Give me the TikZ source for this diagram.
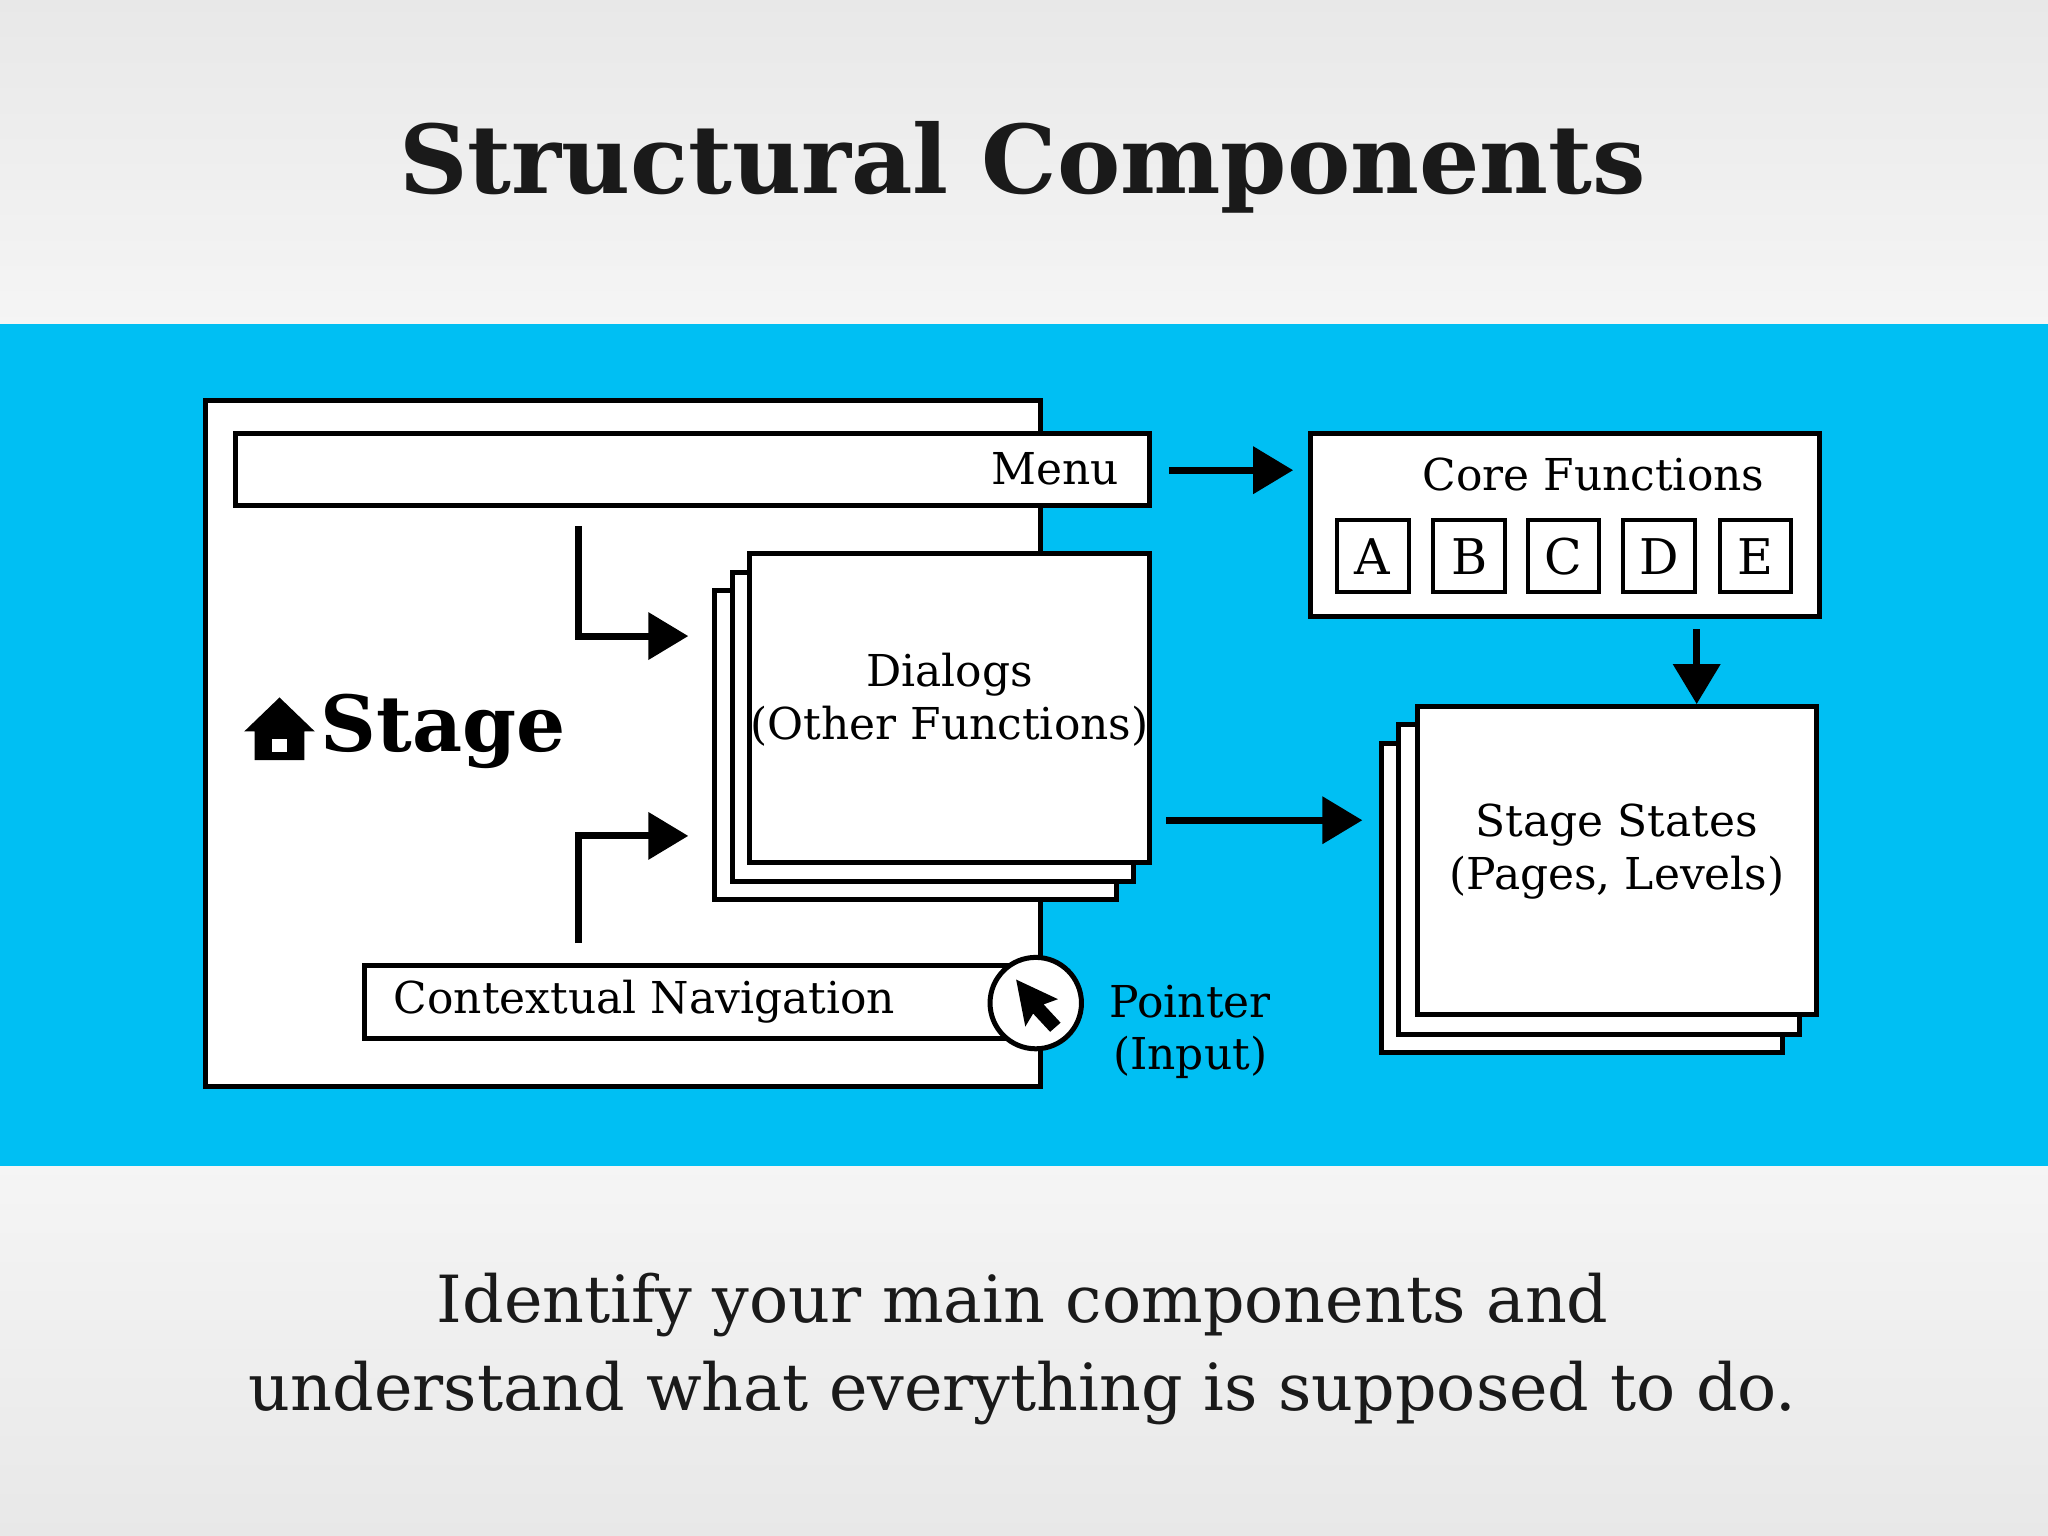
\documentclass[tikz,border=0pt]{standalone}
\usepackage{fontspec}
\setmainfont{DejaVu Serif}
\usetikzlibrary{positioning,arrows.meta}
\definecolor{band}{HTML}{00BFF3}
\definecolor{ink}{HTML}{1A1A1A}
\tikzset{
  box/.style={draw=black,fill=white,line width=0.5mm,inner sep=0pt},
  arr/.style={line width=0.7mm,-{Triangle[length=4mm,width=4.6mm]}},
  lbl/.style={font=\fontsize{12.5}{15}\selectfont,align=center},
}
\begin{document}
\begin{tikzpicture}[x=0.01306cm,y=-0.01306cm]
		\useasboundingbox (0,0) rectangle (1568,1176);
		\shade[top color=gray!18,bottom color=gray!8] (0,0) rectangle (1568,248);
		\shade[top color=gray!8,bottom color=gray!18] (0,893) rectangle (1568,1176);
		\fill[band] (0,248) rectangle (1568,893);
		\node[font=\fontsize{27}{30}\selectfont\bfseries,text=ink] (title) at (783,128) {Structural Components};
		\node[font=\fontsize{18.5}{25}\selectfont,text=ink,align=center] (note) at (783,1033)
			{Identify your main components and\\understand what everything is supposed to do.};
		% stage
		\draw[box] (157,307) rectangle (797,832);
		\draw[box] (180,332) rectangle (880,387);
		\node[lbl,anchor=east] (menu) at (866,359) {Menu};
		\draw[box] (547,452) rectangle (855,689);
		\draw[box] (561,438) rectangle (868,675);
		\draw[box] (574,424) rectangle (880,660);
		\node[lbl] (dialogs) at (727,536) {Dialogs\\(Other Functions)};
		\coordinate (t1) at (443,403);
		\coordinate (t2) at (527,487);
		\coordinate (b1) at (443,722);
		\coordinate (b2) at (527,640);
		\draw[arr] (t1) |- (t2);
		\draw[arr] (b1) |- (b2);
		\node[font=\fontsize{22}{26}\selectfont\bfseries,anchor=west] (stage) at (236,560) {Stage};
		\fill (187,560) -- (214,534) -- (241,560) -- (233,560) -- (233,582) -- (195,582) -- (195,560) -- cycle;
		\fill[white] (208,566) rectangle (220,576);
		\draw[box] (279,739) rectangle (790,795);
		\node[lbl,anchor=west] (nav) at (292,767) {Contextual Navigation};
		\node[box,circle,minimum size=70*0.01306cm] (ptr) at (793,768) {};
		\fill (778,750) -- (810,765) -- (799,769) -- (812,783) -- (804,790) -- (791,776) -- (785,786) -- cycle;
		\node[lbl,anchor=west] (input) at (840,790) {Pointer\\(Input)};
		% core
		\node[box,minimum width=390*0.01306cm,minimum height=140*0.01306cm] (core) at (1198,402) {};
		\node[lbl] (coretxt) at (1220,363) {Core Functions};
		\foreach \l/\x in {A/1051,B/1125,C/1197,D/1270,E/1344}{
			\node[box,line width=0.4mm,minimum width=55*0.01306cm,minimum height=55*0.01306cm,font=\fontsize{14}{16}\selectfont] (fn\l) at (\x,426) {\l};
		};
		% states
		\draw[box] (1058,569) rectangle (1365,806);
		\draw[box] (1071,555) rectangle (1378,792);
		\node[box,minimum width=306*0.01306cm,minimum height=236*0.01306cm] (states) at (1238,659) {};
		\node[lbl] (statestxt) at (1238,652) {Stage States\\(Pages, Levels)};
		\coordinate (mr) at (895,360);
		\draw[arr] (mr) -- ([xshift=-11*0.01306cm]mr -| core.west);
		\draw[arr] ([yshift=-8*0.01306cm]core.south -| fnD.east) -- (states.north -| fnD.east);
		\coordinate (d1) at (893,628);
		\draw[arr] (d1) -- ([xshift=-40*0.01306cm]d1 -| states.west);
	\end{tikzpicture}
\end{document}
